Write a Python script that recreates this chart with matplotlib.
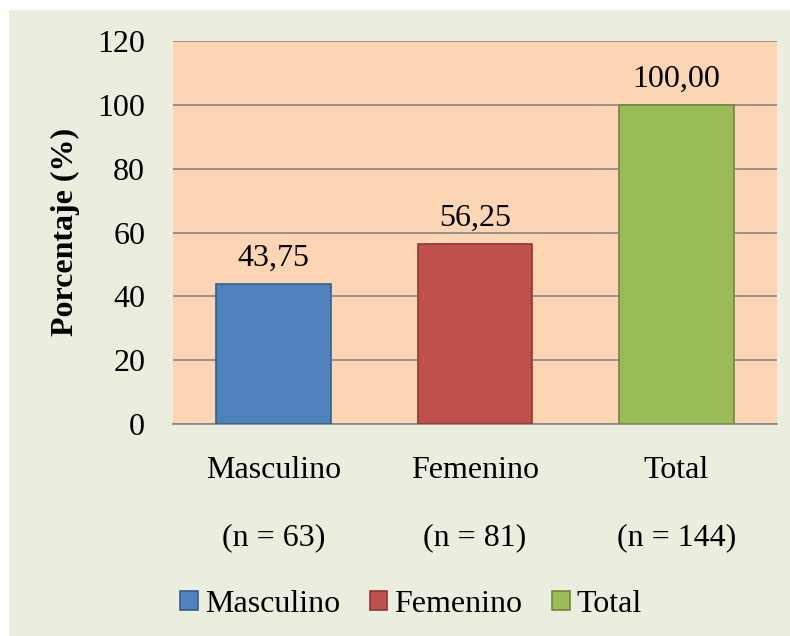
import matplotlib.pyplot as plt
from matplotlib.patches import Rectangle, Patch

categories = ["Masculino", "Femenino", "Total"]
counts = ["(n = 63)", "(n = 81)", "(n = 144)"]
values = [43.75, 56.25, 100.00]
value_labels = ["43,75", "56,25", "100,00"]
yticks = [0, 20, 40, 60, 80, 100, 120]

colors = ["#4F81BD", "#C0504D", "#9BBB59"]
edges = ["#385D8A", "#8C3836", "#71893F"]

plt.rcParams['font.family'] = ['Liberation Serif', 'DejaVu Serif']

fig = plt.figure(figsize=(7.9, 6.36), dpi=100)
fig.patch.set_facecolor('white')
# greenish chart area, white margin at top/left
fig.patches.append(Rectangle((9 / 790, 0), 1, 1 - 10 / 636, transform=fig.transFigure,
                             facecolor='#EBEEDF', edgecolor='none', zorder=-10))

ax = fig.add_axes([173 / 790, 1 - 424 / 636, 604 / 790, 383 / 636])
ax.set_facecolor('#FCD5B5')

x = range(len(categories))
bars = ax.bar(x, values, width=0.57, color=colors, edgecolor=edges, linewidth=1.2, zorder=3)

for i, (v, lab) in enumerate(zip(values, value_labels)):
    ax.text(i, v + 3.5, lab, ha='center', va='bottom', fontsize=23)

ax.set_xlim(-0.5, 2.5)
ax.set_ylim(0, 120)
ax.set_yticks(yticks)
ax.set_yticklabels([str(t) for t in yticks], fontsize=23)
ax.yaxis.grid(True, color='#868686', linewidth=1.2, zorder=0)
ax.set_axisbelow(True)
ax.tick_params(axis='y', length=0, pad=20)
ax.set_xticks([])

for s in ['top', 'right', 'left']:
    ax.spines[s].set_visible(False)
ax.spines['bottom'].set_color('#868686')
ax.spines['bottom'].set_linewidth(1.2)

for i, (c, n) in enumerate(zip(categories, counts)):
    ax.text(i, -14.5, c, ha='center', va='center', fontsize=23)
    ax.text(i, -35.5, n, ha='center', va='center', fontsize=23)

fig.text(65 / 790, 1 - 232 / 636, "Porcentaje (%)", rotation=90, ha='center', va='center',
         fontsize=23, fontweight='bold')

handles = [Patch(facecolor=c, edgecolor=e, linewidth=1.2) for c, e in zip(colors, edges)]
fig.legend(handles, categories, loc='center', bbox_to_anchor=(411 / 790, 1 - 604 / 636),
           ncol=3, frameon=False, fontsize=23, handlelength=0.55, handleheight=0.55,
           handletextpad=0.22, columnspacing=0.93)

fig.savefig("out.png", dpi=100)
